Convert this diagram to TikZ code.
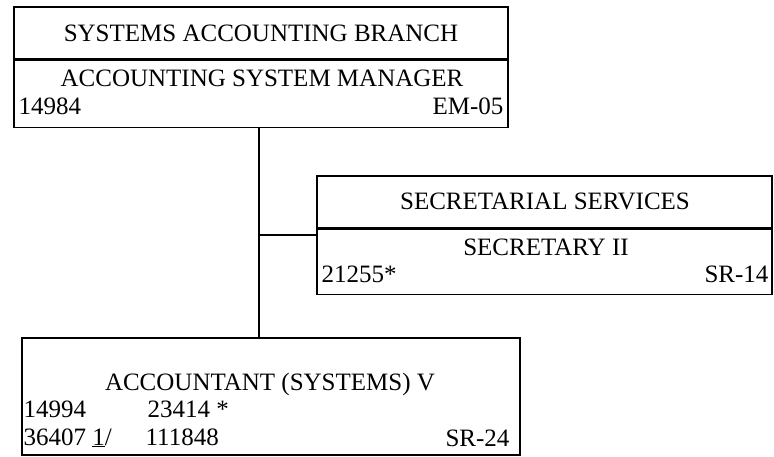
\documentclass[tikz,border=0pt]{standalone}
\usepackage{fontspec}
\setmainfont{Liberation Serif}
\begin{document}
\begin{tikzpicture}[x=1pt, y=-1pt, line width=1.2pt, font=\fontsize{25}{30}\selectfont,
	box/.style={draw, rectangle, inner sep=0pt},
	txt/.style={inner sep=0pt, anchor=base}]
	\useasboundingbox (0,0) rectangle (774,457);
	% boxes
	\node[box, minimum width=494pt, minimum height=52pt] (branch) at (261,33) {};
	\node[box, minimum width=494pt, minimum height=67pt, anchor=north] (manager) at (branch.south) {};
	\node[box, minimum width=455pt, minimum height=52pt] (services) at (544.5,202) {};
	\node[box, minimum width=455pt, minimum height=65pt, anchor=north] (secretary) at (services.south) {};
	\node[box, minimum width=498pt, minimum height=117pt] (accountant) at (271,396.5) {};
	% texts
	\node[txt] (branchname) at (261,42) {SYSTEMS ACCOUNTING BRANCH};
	\node[txt] (managername) at (262,87) {ACCOUNTING SYSTEM MANAGER};
	\node[txt, anchor=base west] (managerno) at (18,115) {14984};
	\node[txt, anchor=base east] (managergr) at (504,115) {EM-05};
	\node[txt] (servicesname) at (545,210) {SECRETARIAL SERVICES};
	\node[txt] (secretaryname) at (546,255) {SECRETARY II};
	\node[txt, anchor=base west] (secretaryno) at (321,283) {21255*};
	\node[txt, anchor=base east] (secretarygr) at (769,283) {SR-14};
	\node[txt] (accountantname) at (270,390) {ACCOUNTANT (SYSTEMS) V};
	\node[txt, anchor=base west] (accno1) at (23,417) {14994};
	\node[txt, anchor=base west] (accno2) at (147,417) {23414 *};
	\node[txt, anchor=base west] (accno3) at (23,445) {36407 \underline{1}/};
	\node[txt, anchor=base west] (accno4) at (145,445) {111848};
	\node[txt, anchor=base east] (accgr) at (510,446) {SR-24};
	% lines
	\coordinate (trunk) at (259,235);
	\draw (manager.south -| trunk) -- (accountant.north -| trunk);
	\draw (trunk) -- (trunk -| secretary.west);
\end{tikzpicture}
\end{document}
